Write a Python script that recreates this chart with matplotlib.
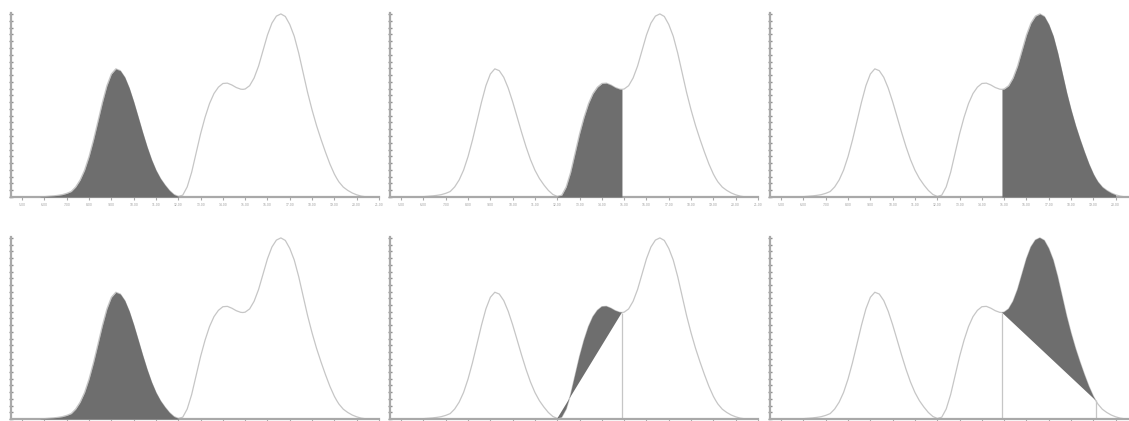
import numpy as np
import matplotlib.pyplot as plt
from matplotlib.ticker import MultipleLocator

# Detector trace (time in min, signal in % of the tallest peak)
times = [4.5, 5.0, 5.5, 5.8, 6.0, 6.2, 6.4, 6.6, 6.8, 7.0, 7.2, 7.4, 7.6, 7.8,
         8.0, 8.2, 8.4, 8.6, 8.8, 9.0, 9.2, 9.4, 9.6, 9.8, 10.0, 10.2, 10.4,
         10.6, 10.8, 11.0, 11.2, 11.4, 11.6, 11.8, 12.0, 12.2, 12.4, 12.6,
         12.8, 13.0, 13.2, 13.4, 13.6, 13.8, 14.0, 14.2, 14.4, 14.6, 14.8,
         14.9, 15.0, 15.2, 15.4, 15.6, 15.8, 16.0, 16.2, 16.4, 16.6, 16.8,
         17.0, 17.2, 17.4, 17.6, 17.8, 18.0, 18.2, 18.4, 18.6, 18.8, 19.0,
         19.1, 19.2, 19.4, 19.6, 19.8, 20.0, 20.2, 20.4, 20.6, 21.0]
signal = [0.0, 0.0, 0.0, 0.1, 0.2, 0.4, 0.6, 0.9, 1.3, 2.0, 3.0, 5.5, 9.3, 14.7,
          22.1, 31.2, 41.4, 51.7, 60.8, 67.2, 70.0, 69.0, 65.4, 59.5, 52.0,
          43.7, 35.3, 27.4, 20.4, 14.6, 10.1, 6.6, 3.6, 1.4, 0.3, 1.0, 5.5,
          13.5, 24.0, 34.5, 43.5, 51.0, 56.5, 60.0, 62.0, 62.2, 61.2, 59.8,
          58.9, 58.8, 59.0, 60.8, 65.0, 71.5, 80.0, 88.5, 95.0, 98.8, 100.0,
          98.6, 94.2, 87.8, 78.6, 67.8, 57.0, 47.5, 39.0, 31.5, 24.5, 18.0,
          12.5, 10.3, 8.3, 5.4, 3.6, 2.2, 1.2, 0.5, 0.1, 0.0, 0.0]

# Integration limits (min)
peak1_window = (5.8, 12.0)
valley = 12.0
split = 14.9
peak3_end = 20.0
skim_end = 19.1

tick_times = [5, 6, 7, 8, 9, 10, 11, 12, 13, 14, 15, 16, 17, 18, 19, 20, 21]

t = np.array(times)
s = np.array(signal)

line_col = '#c6c6c6'
fill_col = '#6e6e6e'
axis_col = '#a9a9a9'


def segment(a, b):
    m = (t >= a - 1e-9) & (t <= b + 1e-9)
    return t[m], s[m]


def value_at(x):
    return s[np.argmin(np.abs(t - x))]


W, H = 1129, 421
fig = plt.figure(figsize=(W / 100, H / 100), dpi=100)

lefts = [11, 390, 770]
rows = [(197, 184), (419, 182)]   # (baseline px, height px)
axes = []
for r, (base, h) in enumerate(rows):
    for c, lx in enumerate(lefts):
        ax = fig.add_axes([lx / W, (H - base) / H, 368 / W, h / H])
        axes.append(ax)

for i, ax in enumerate(axes):
    ax.plot(t, s, color=line_col, lw=0.9, zorder=2)
    ax.set_xlim(4.5, 21.0)
    ax.set_ylim(0, 100.5)
    for side in ['top', 'right']:
        ax.spines[side].set_visible(False)
    for side in ['left', 'bottom']:
        ax.spines[side].set_color(axis_col)
        ax.spines[side].set_linewidth(1.6)
    ax.yaxis.set_major_locator(MultipleLocator(3.7))
    ax.tick_params(axis='y', length=2.2, width=1.0, color='#8f8f8f',
                   direction='inout', labelleft=False)
    # last panel runs past the right edge, so its final tick is dropped
    ticks = tick_times[:-1] if i == 2 else tick_times
    ax.set_xticks(ticks)
    ax.set_xticklabels(['%.2f' % v for v in ticks])
    ax.tick_params(axis='x', length=2.5, width=0.8, color=axis_col,
                   labelsize=2.2, labelcolor='#9a9a9a', pad=1.5,
                   labelbottom=(i < 3))

# top row: drop-line integration
tt, ss = segment(*peak1_window)
axes[0].fill_between(tt, 0, ss, color=fill_col, lw=0, zorder=3)

tt, ss = segment(valley, split)
axes[1].fill_between(tt, 0, ss, color=fill_col, lw=0, zorder=3)

tt, ss = segment(split, peak3_end)
axes[2].fill_between(tt, 0, ss, color=fill_col, lw=0, zorder=3)

# bottom row: skimmed integration
tt, ss = segment(*peak1_window)
axes[3].fill_between(tt, 0, ss, color=fill_col, lw=0, zorder=3)

tt, ss = segment(valley, split)
axes[4].fill(tt, ss, color=fill_col, lw=0, zorder=3)
axes[4].vlines(split, 0, value_at(split), color=line_col, lw=0.9, zorder=2)

tt, ss = segment(split, skim_end)
axes[5].fill(tt, ss, color=fill_col, lw=0, zorder=3)
axes[5].vlines([split, skim_end], 0, [value_at(split), value_at(skim_end)],
               color=line_col, lw=0.9, zorder=2)

fig.savefig('out.png', dpi=100)
